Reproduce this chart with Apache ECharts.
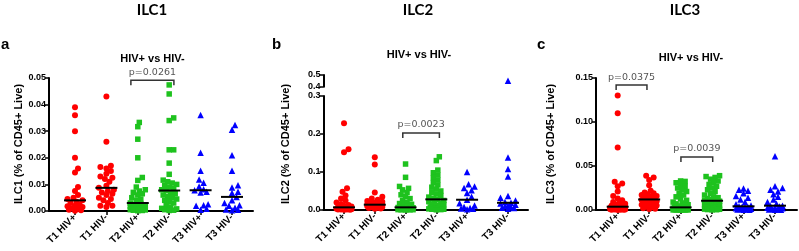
<!DOCTYPE html>
<html><head><meta charset="utf-8">
<script src="https://cdn.jsdelivr.net/npm/echarts@6/dist/echarts.min.js"></script>
<style>html,body{margin:0;padding:0;background:#fff}#c{width:799px;height:251px}</style>
</head><body><div id="c"></div>
<script>
const categories = ['T1 HIV+', 'T1 HIV-', 'T2 HIV+', 'T2 HIV-', 'T3 HIV+', 'T3 HIV-'];

// ILC1 (% of CD45+ Live)
const ilc1_T1pos = [0.039, 0.036, 0.030, 0.020, 0.016, 0.0145, 0.009, 0.0075, 0.006, 0.005, 0.0045, 0.004, 0.0035, 0.003, 0.0025, 0.002, 0.0018, 0.0015, 0.001, 0.0008, 0.0005, 0.0003, 0.0001];
const ilc1_T1neg = [0.043, 0.026, 0.017, 0.0165, 0.016, 0.015, 0.014, 0.013, 0.0125, 0.012, 0.011, 0.0095, 0.0087, 0.008, 0.0075, 0.007, 0.0065, 0.006, 0.005, 0.0045, 0.004, 0.003, 0.002, 0.002, 0.0015];
const ilc1_T2pos = [0.0333, 0.0317, 0.027, 0.020, 0.0126, 0.0115, 0.009, 0.008, 0.0075, 0.007, 0.0065, 0.006, 0.005, 0.0045, 0.004, 0.003, 0.0028, 0.0025, 0.0022, 0.002, 0.0018, 0.0015, 0.0012, 0.001, 0.0008, 0.0006, 0.0005, 0.0004, 0.0003, 0.0002, 0.0001];
const ilc1_T2neg = [0.0474, 0.044, 0.035, 0.034, 0.023, 0.023, 0.018, 0.0138, 0.0116, 0.011, 0.0105, 0.010, 0.0095, 0.009, 0.0085, 0.008, 0.0077, 0.007, 0.0065, 0.006, 0.0055, 0.005, 0.0045, 0.004, 0.0035, 0.003, 0.002, 0.0015, 0.001, 0.0008, 0.0005, 0.0003, 0.0002];
const ilc1_T3pos = [0.0361, 0.0219, 0.0151, 0.0118, 0.0106, 0.0092, 0.0082, 0.0078, 0.0072, 0.0070, 0.0025, 0.0022, 0.0020, 0.0008, 0.0005];
const ilc1_T3neg = [0.0323, 0.0305, 0.021, 0.0151, 0.0097, 0.0088, 0.0072, 0.0068, 0.0053, 0.0040, 0.0030, 0.0022, 0.0020, 0.0012, 0.0006, 0.0005, 0.0003];

// ILC2 (% of CD45+ Live)
const ilc2_T1pos = [0.228, 0.16, 0.152, 0.057, 0.048, 0.038, 0.03, 0.025, 0.02, 0.016, 0.013, 0.011, 0.009, 0.008, 0.007, 0.006, 0.005, 0.0045, 0.004, 0.0035, 0.003, 0.0025, 0.002, 0.002, 0.0015, 0.001, 0.001, 0.0005, 0.0005];
const ilc2_T1neg = [0.139, 0.12, 0.046, 0.035, 0.03, 0.027, 0.024, 0.022, 0.02, 0.018, 0.016, 0.015, 0.014, 0.0135, 0.013, 0.012, 0.011, 0.01, 0.009, 0.008, 0.007, 0.006, 0.005, 0.004, 0.003];
const ilc2_T2pos = [0.121, 0.086, 0.062, 0.057, 0.053, 0.046, 0.04, 0.035, 0.03, 0.025, 0.02, 0.017, 0.015, 0.012, 0.01, 0.007, 0.0065, 0.006, 0.005, 0.004, 0.0035, 0.003, 0.0025, 0.002, 0.0015, 0.001, 0.001, 0.0008, 0.0005, 0.0005, 0.0003];
const ilc2_T2neg = [0.14, 0.13, 0.105, 0.098, 0.092, 0.085, 0.079, 0.072, 0.066, 0.06, 0.055, 0.05, 0.046, 0.042, 0.038, 0.034, 0.031, 0.028, 0.025, 0.022, 0.02, 0.018, 0.016, 0.014, 0.012, 0.01, 0.008, 0.006, 0.005, 0.004, 0.003, 0.002, 0.002, 0.001, 0.0005];
const ilc2_T3pos = [0.100, 0.068, 0.062, 0.058, 0.052, 0.045, 0.035, 0.027, 0.018, 0.012, 0.008, 0.005, 0.004, 0.003, 0.002];
const ilc2_T3neg = [0.45, 0.138, 0.108, 0.088, 0.037, 0.032, 0.025, 0.021, 0.019, 0.017, 0.014, 0.012, 0.01, 0.008, 0.006, 0.005, 0.003];

// ILC3 (% of CD45+ Live)
const ilc3_T1pos = [0.13, 0.11, 0.071, 0.032, 0.030, 0.027, 0.021, 0.016, 0.013, 0.011, 0.009, 0.008, 0.007, 0.006, 0.005, 0.0045, 0.004, 0.0035, 0.003, 0.0028, 0.0025, 0.002, 0.002, 0.0018, 0.0015, 0.0012, 0.001, 0.0008, 0.0006, 0.0005, 0.0004, 0.0003, 0.0002, 0.0001];
const ilc3_T1neg = [0.039, 0.037, 0.034, 0.028, 0.022, 0.020, 0.019, 0.018, 0.017, 0.016, 0.015, 0.014, 0.013, 0.012, 0.0115, 0.011, 0.010, 0.009, 0.008, 0.007, 0.006, 0.005, 0.004, 0.003, 0.002, 0.0015, 0.001];
const ilc3_T2pos = [0.033, 0.0325, 0.031, 0.029, 0.027, 0.025, 0.023, 0.021, 0.019, 0.017, 0.015, 0.013, 0.011, 0.009, 0.008, 0.007, 0.006, 0.005, 0.0045, 0.004, 0.0035, 0.003, 0.0028, 0.0025, 0.0022, 0.002, 0.0018, 0.0015, 0.0012, 0.001, 0.0008, 0.0006, 0.0005, 0.0004, 0.0003, 0.0002, 0.0001, 0.0001, 0.0001, 0.0001, 0.0001, 0.0001, 0.0001];
const ilc3_T2neg = [0.039, 0.038, 0.037, 0.035, 0.033, 0.031, 0.029, 0.027, 0.025, 0.023, 0.021, 0.019, 0.017, 0.015, 0.014, 0.013, 0.012, 0.011, 0.0105, 0.010, 0.009, 0.008, 0.007, 0.006, 0.005, 0.0045, 0.004, 0.0035, 0.003, 0.0025, 0.002, 0.0015, 0.001, 0.0008, 0.0005, 0.0003, 0.0001];
const ilc3_T3pos = [0.0244, 0.023, 0.022, 0.019, 0.016, 0.014, 0.012, 0.009, 0.0065, 0.005, 0.0042, 0.0035, 0.003, 0.0025, 0.002, 0.0015, 0.001, 0.0008, 0.0005, 0.0003, 0.0002];
const ilc3_T3neg = [0.061, 0.027, 0.025, 0.023, 0.021, 0.018, 0.015, 0.012, 0.009, 0.007, 0.0049, 0.0045, 0.004, 0.003, 0.0025, 0.002, 0.0015, 0.001, 0.0007, 0.0004, 0.0002];

// tick labels
const ilc1YTicks = [0, 0.01, 0.02, 0.03, 0.04, 0.05];
const ilc2YTicksLow = [0, 0.1, 0.2, 0.3];
const ilc2YTicksHigh = [0.4, 0.5];
const ilc3YTicks = [0, 0.05, 0.10, 0.15];

// significance labels
const ilc1PLabels = ['p=0.0261'];
const ilc2PLabels = ['p=0.0023'];
const ilc3PLabels = ['p=0.0375', 'p=0.0039'];

const panelTitles = ['ILC1', 'ILC2', 'ILC3'];
const panelLetters = ['a', 'b', 'c'];
const subTitle = 'HIV+ vs HIV-';
const yNames = ['ILC1 (% of CD45+ Live)', 'ILC2 (% of CD45+ Live)', 'ILC3 (% of CD45+ Live)'];

// ---------- layout / style ----------
const COLORS = ['#ff0000', '#ff0000', '#1ec21e', '#1ec21e', '#0000ff', '#0000ff'];
const SYMBOLS = ['circle', 'circle', 'rect', 'rect', 'triangle', 'triangle'];
const SIZES = [6, 6, 5.5, 5.5, 6.5, 6.5];
const LAB_FONT = '"Liberation Sans", Arial, sans-serif';

const gridDefs = [
  {left: 49, top: 78, width: 204, height: 133, xMin: -0.828, xMax: 5.669, yMin: 0, yMax: 0.05},
  {left: 323.5, top: 96, width: 204.5, height: 114, xMin: -0.667, xMax: 5.98, yMin: 0, yMax: 0.3},
  {left: 323.5, top: 75, width: 204.5, height: 11.7, xMin: -0.667, xMax: 5.98, yMin: 0.4, yMax: 0.5},
  {left: 596, top: 78, width: 201, height: 132, xMin: -0.69, xMax: 5.70, yMin: 0, yMax: 0.15}
];
const catPos = [
  [0, 1, 2, 3, 4, 5],
  [0, 1, 2, 3, 4, 5.33],
  [0, 1, 2, 3, 4, 5]
];

const panels = [
  {groups: [ilc1_T1pos, ilc1_T1neg, ilc1_T2pos, ilc1_T2neg, ilc1_T3pos, ilc1_T3neg], grid: 0, hiGrid: null, pos: catPos[0],
   brackets: [[1.78, 3.15, 0.0492]], pLabels: ilc1PLabels},
  {groups: [ilc2_T1pos, ilc2_T1neg, ilc2_T2pos, ilc2_T2neg, ilc2_T3pos, ilc2_T3neg], grid: 1, hiGrid: 2, pos: catPos[1],
   brackets: [[1.91, 3.10, 0.2026]], pLabels: ilc2PLabels},
  {groups: [ilc3_T1pos, ilc3_T1neg, ilc3_T2pos, ilc3_T2neg, ilc3_T3pos, ilc3_T3neg], grid: 3, hiGrid: null, pos: catPos[2],
   brackets: [[-0.05, 0.93, 0.142], [2.01, 3.02, 0.0602]], pLabels: ilc3PLabels}
];

function median(arr) {
  const s = arr.slice().sort((a, b) => a - b);
  const n = s.length;
  return n % 2 ? s[(n - 1) / 2] : (s[n / 2 - 1] + s[n / 2]) / 2;
}

// beeswarm offsets (pixel space)
function swarm(values, pxPerY, D, cap) {
  const order = values.map((v, i) => ({v, i})).sort((a, b) => a.v - b.v);
  const placed = [];
  const offs = new Array(values.length).fill(0);
  const cands = [0];
  for (let k = 1; k * 1.5 <= cap; k++) { cands.push(k * 1.5, -k * 1.5); }
  order.forEach(p => {
    const y = p.v * pxPerY;
    let chosen = null, bestD = -1, bestOff = 0;
    for (const c of cands) {
      let md = Infinity;
      for (const q of placed) { const d = Math.hypot(q.x - c, q.y - y); if (d < md) md = d; }
      if (md >= D) { chosen = c; break; }
      if (md > bestD) { bestD = md; bestOff = c; }
    }
    if (chosen === null) chosen = bestOff;
    placed.push({x: chosen, y});
    offs[p.i] = chosen;
  });
  return offs;
}

const grids = gridDefs.map(g => ({left: g.left, top: g.top, width: g.width, height: g.height, outerBoundsMode: 'none', containLabel: false}));

function makeX(gi, pos) {
  const show = gi !== 2;
  return {
    type: 'value', gridIndex: gi, min: gridDefs[gi].xMin, max: gridDefs[gi].xMax, show: show,
    splitLine: {show: false},
    axisLine: {show: show, onZero: false, lineStyle: {color: '#000', width: 2}},
    axisTick: {show: show, customValues: pos, length: 4, inside: false, lineStyle: {color: '#000', width: 1.5}},
    axisLabel: {show: show, customValues: pos, rotate: 45, margin: 5, color: '#000', fontWeight: 'bold', fontSize: 10, fontFamily: LAB_FONT,
      formatter: v => { let bi = 0, bd = 1e9; pos.forEach((p, i) => { if (Math.abs(p - v) < bd) { bd = Math.abs(p - v); bi = i; } }); return categories[bi]; }}
  };
}
function makeY(gi, ticks, dec) {
  return {
    type: 'value', gridIndex: gi, min: ticks[0], max: ticks[ticks.length - 1], interval: +(ticks[1] - ticks[0]).toFixed(6),
    splitLine: {show: false},
    axisLine: {show: true, onZero: false, lineStyle: {color: '#000', width: 2}},
    axisTick: {show: true, length: 4, inside: false, lineStyle: {color: '#000', width: 1.5}},
    axisLabel: {show: true, margin: 3, color: '#000', fontWeight: 'bold', fontSize: 9, fontFamily: LAB_FONT, formatter: v => v.toFixed(dec)}
  };
}

const xAxes = [makeX(0, catPos[0]), makeX(1, catPos[1]), makeX(2, catPos[1]), makeX(3, catPos[2])];
const yAxes = [makeY(0, ilc1YTicks, 2), makeY(1, ilc2YTicksLow, 1), makeY(2, ilc2YTicksHigh, 1), makeY(3, ilc3YTicks, 2)];

const series = [];
panels.forEach(pn => {
  const gd = gridDefs[pn.grid];
  const pxPerY = gd.height / (gd.yMax - gd.yMin);
  const pxPerX = gd.width / (gd.xMax - gd.xMin);
  const medData = [];
  pn.groups.forEach((vals, gi) => {
    const offs = swarm(vals, pxPerY, SIZES[gi] * 0.8, 8.5);
    const lo = [], hi = [];
    vals.forEach((v, i) => {
      const pt = [pn.pos[gi] + offs[i] / pxPerX, v];
      if (pn.hiGrid !== null && v > gd.yMax) hi.push(pt); else lo.push(pt);
    });
    const base = {type: 'scatter', symbol: SYMBOLS[gi], symbolSize: SIZES[gi], itemStyle: {color: COLORS[gi], opacity: 1}, clip: false, z: 3, silent: true, animation: false};
    series.push(Object.assign({}, base, {xAxisIndex: pn.grid, yAxisIndex: pn.grid, data: lo}));
    if (hi.length) series.push(Object.assign({}, base, {xAxisIndex: pn.hiGrid, yAxisIndex: pn.hiGrid, data: hi}));
    medData.push([pn.pos[gi], median(vals)]);
  });
  series.push({
    type: 'custom', xAxisIndex: pn.grid, yAxisIndex: pn.grid, data: medData, z: 5, clip: false, animation: false, silent: true,
    renderItem: (params, api) => {
      const p = api.coord([api.value(0), api.value(1)]);
      return {type: 'line', shape: {x1: p[0] - 11, y1: p[1], x2: p[0] + 11, y2: p[1]}, style: {stroke: '#000', lineWidth: 2}};
    }
  });
  series.push({
    type: 'custom', xAxisIndex: pn.grid, yAxisIndex: pn.grid, data: pn.brackets, z: 5, clip: false, animation: false, silent: true,
    renderItem: (params, api) => {
      const a = api.coord([api.value(0), api.value(2)]);
      const b = api.coord([api.value(1), api.value(2)]);
      return {type: 'group', children: [
        {type: 'polyline', shape: {points: [[a[0], a[1] + 5], [a[0], a[1]], [b[0], b[1]], [b[0], b[1] + 5]]}, style: {stroke: '#333', lineWidth: 1.5, fill: 'none'}},
        {type: 'text', style: {text: pn.pLabels[params.dataIndex], x: (a[0] + b[0]) / 2, y: a[1] - 8, align: 'center', verticalAlign: 'middle', fontSize: 9.5, fontFamily: '"DejaVu Sans", sans-serif', fill: '#555'}}
      ]};
    }
  });
});

const titleX = [152, 418, 685];
const subX = [152.5, 419, 691];
const subY = [59, 55, 58];
const letterX = [1, 272, 537];
const yNameX = [19, 286, 551];
const graphic = [];
for (let i = 0; i < 3; i++) {
  graphic.push({type: 'text', x: titleX[i], y: 10, style: {text: panelTitles[i], align: 'center', verticalAlign: 'middle', fontSize: 15, fontWeight: 'bold', fontFamily: 'Lato, sans-serif', fill: '#000'}});
  graphic.push({type: 'text', x: letterX[i], y: 45, style: {text: panelLetters[i], align: 'left', verticalAlign: 'middle', fontSize: 15, fontWeight: 'bold', fontFamily: LAB_FONT, fill: '#000'}});
  graphic.push({type: 'text', x: subX[i], y: subY[i], style: {text: subTitle, align: 'center', verticalAlign: 'middle', fontSize: 11, fontWeight: 'bold', fontFamily: LAB_FONT, fill: '#000'}});
  graphic.push({type: 'text', x: yNameX[i], y: 144, rotation: Math.PI / 2, style: {text: yNames[i], align: 'center', verticalAlign: 'middle', fontSize: 11, fontWeight: 'bold', fontFamily: LAB_FONT, fill: '#000'}});
}

const chart = echarts.init(document.getElementById('c'), null, {renderer: 'canvas'});
chart.setOption({
  animation: false,
  backgroundColor: '#fff',
  grid: grids,
  xAxis: xAxes,
  yAxis: yAxes,
  series: series,
  graphic: graphic
});
</script>
</body></html>
